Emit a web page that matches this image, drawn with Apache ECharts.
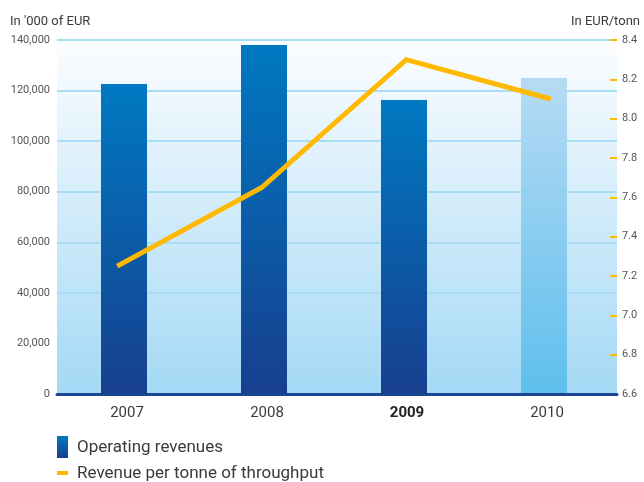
<!DOCTYPE html>
<html>
<head>
<meta charset="utf-8">
<script src="https://cdn.jsdelivr.net/npm/echarts@6/dist/echarts.min.js"></script>
<style>
  html, body { margin: 0; padding: 0; background: #ffffff; }
  #chart { width: 644px; height: 482px; }
</style>
</head>
<body>
<div id="chart"></div>
<script>
// Years on the category axis
var years = ['2007', '2008', '2009', '2010'];
// Operating revenues, in '000 of EUR
var operatingRevenues = [122600, 138000, 116300, 125000];
// Revenue per tonne of throughput, in EUR/tonne
var revenuePerTonne = [7.25, 7.65, 8.30, 8.10];
// Highlighted year label
var boldYear = '2009';

var FONT = 'Roboto, "DejaVu Sans", sans-serif';
var TEXT = '#3a3a3a';
var ORANGE = '#ffb900';

function vGrad(top, bottom) {
  return new echarts.graphic.LinearGradient(0, 0, 0, 1, [
    { offset: 0, color: top },
    { offset: 1, color: bottom }
  ]);
}

var barData = operatingRevenues.map(function (v, i) {
  var item = { value: v };
  if (i === operatingRevenues.length - 1) {
    item.itemStyle = { color: vGrad('#b6dbf4', '#5ebfec') };
  }
  return item;
});

var chart = echarts.init(document.getElementById('chart'), null, { renderer: 'canvas' });

chart.setOption({
  animation: false,
  textStyle: { fontFamily: FONT },
  grid: [
    // main plot: background, axes, labels
    {
      left: 57, right: 27, top: 40, bottom: 88,
      show: true, borderWidth: 0,
      backgroundColor: vGrad('#fcfdff', '#a4d9f5')
    },
    // bars
    { left: 54, right: 30, top: 40, bottom: 88 },
    // revenue-per-tonne line
    { left: 45, right: 21, top: 40, bottom: 88 }
  ],
  xAxis: [
    {
      type: 'category', gridIndex: 0, data: years,
      axisLine: { lineStyle: { color: '#1b4694', width: 3 } },
      axisTick: { show: false },
      axisLabel: {
        margin: 12, fontSize: 15, color: TEXT, fontFamily: FONT,
        formatter: function (v) { return v === boldYear ? '{b|' + v + '}' : v; },
        rich: { b: { fontWeight: 'bold', fontSize: 15, color: '#222', fontFamily: FONT } }
      },
      z: 5
    },
    { type: 'category', gridIndex: 1, data: years, show: false },
    { type: 'category', gridIndex: 2, data: years, show: false }
  ],
  yAxis: [
    {
      type: 'value', gridIndex: 0, min: 0, max: 140000, interval: 20000,
      axisLine: { show: false }, axisTick: { show: false },
      splitLine: { lineStyle: { color: '#a9dcf5', width: 2 } },
      axisLabel: {
        margin: 7, fontSize: 11, color: '#555',
        formatter: function (v) { return v.toLocaleString('en-US'); }
      },
      name: "In '000 of EUR", nameLocation: 'end', nameGap: 12,
      nameTextStyle: { fontSize: 13, color: TEXT, align: 'left', padding: [0, 0, 0, -47] }
    },
    {
      type: 'value', gridIndex: 0, position: 'right', min: 6.6, max: 8.4, interval: 0.2,
      axisLine: { show: false },
      axisTick: { show: true, inside: true, length: 7, lineStyle: { color: ORANGE, width: 2 } },
      splitLine: { show: false },
      axisLabel: {
        margin: 5, fontSize: 11, color: '#555',
        formatter: function (v) { return v.toFixed(1); }
      },
      name: 'In EUR/tonn', nameLocation: 'end', nameGap: 12,
      nameTextStyle: { fontSize: 13, color: TEXT, align: 'right', padding: [0, -23, 0, 0] }
    },
    { type: 'value', gridIndex: 1, min: 0, max: 140000, show: false },
    { type: 'value', gridIndex: 2, min: 6.6, max: 8.4, show: false }
  ],
  series: [
    {
      name: 'Operating revenues', type: 'bar',
      xAxisIndex: 1, yAxisIndex: 2,
      barWidth: 46,
      itemStyle: { color: vGrad('#0079c2', '#173f8e') },
      data: barData,
      z: 2
    },
    {
      name: 'Revenue per tonne of throughput', type: 'line',
      xAxisIndex: 2, yAxisIndex: 3,
      symbol: 'none',
      lineStyle: { color: ORANGE, width: 5, cap: 'butt', join: 'miter' },
      data: revenuePerTonne,
      z: 4
    }
  ],
  graphic: [
    { type: 'rect', left: 57, top: 436, shape: { width: 11, height: 22 },
      style: { fill: vGrad('#0079c2', '#173f8e') } },
    { type: 'text', left: 77, top: 439,
      style: { text: 'Operating revenues', fill: TEXT, font: '17px ' + FONT } },
    { type: 'rect', left: 57, top: 471, shape: { width: 11, height: 4 },
      style: { fill: ORANGE } },
    { type: 'text', left: 77, top: 465,
      style: { text: 'Revenue per tonne of throughput', fill: TEXT, font: '17px ' + FONT } }
  ]
});
</script>
</body>
</html>
